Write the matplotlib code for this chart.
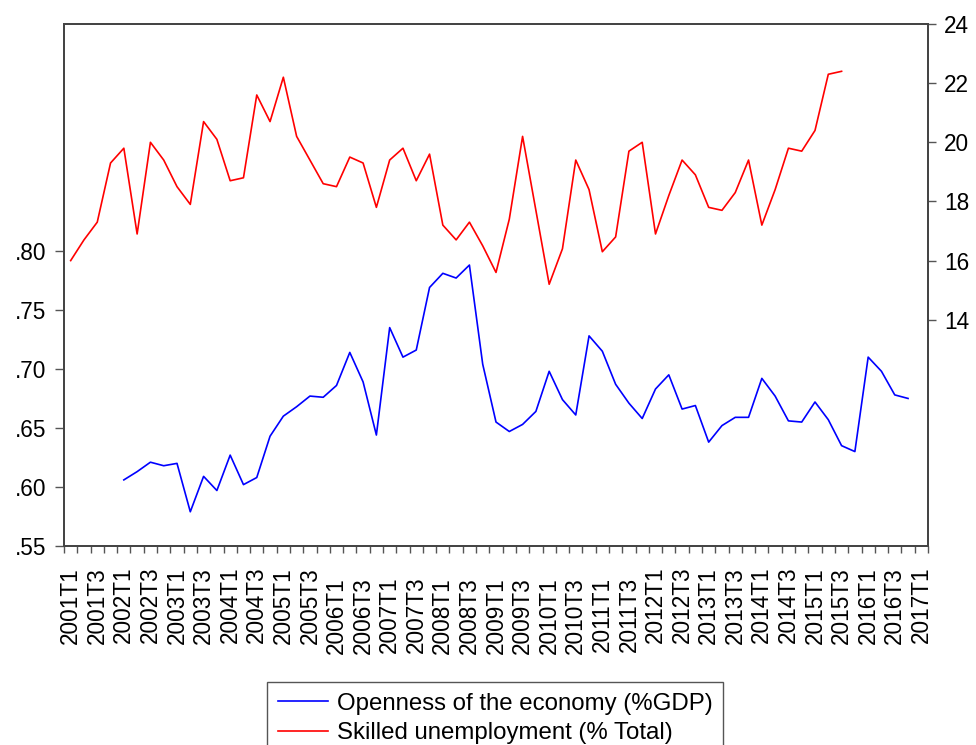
import matplotlib.pyplot as plt
from matplotlib.ticker import FuncFormatter
import numpy as np
import pandas as pd

plt.rcParams['font.family'] = ['Liberation Sans', 'DejaVu Sans']

# quarterly axis, 2001T1 .. 2017T1
quarters = pd.period_range('2001Q1', '2017Q1', freq='Q')
quarter_labels = [f'{p.year}T{p.quarter}' for p in quarters]

# Openness of the economy (%GDP), 2002T1 .. 2016T4 (left axis)
openness_start = '2002Q1'
openness = [0.606, 0.613, 0.621, 0.618, 0.620, 0.579, 0.609, 0.597, 0.627, 0.602,
            0.608, 0.643, 0.660, 0.668, 0.677, 0.676, 0.686, 0.714, 0.689, 0.644,
            0.735, 0.710, 0.716, 0.769, 0.781, 0.777, 0.788, 0.704, 0.655, 0.647,
            0.653, 0.664, 0.698, 0.674, 0.661, 0.728, 0.715, 0.687, 0.671, 0.658,
            0.683, 0.695, 0.666, 0.669, 0.638, 0.652, 0.659, 0.659, 0.692, 0.677,
            0.656, 0.655, 0.672, 0.657, 0.635, 0.630, 0.710, 0.698, 0.678, 0.675]

# Skilled unemployment (% Total), 2001T1 .. 2015T3 (right axis)
unemp_start = '2001Q1'
unemployment = [16.0, 16.7, 17.3, 19.3, 19.8, 16.9, 20.0, 19.4, 18.5, 17.9,
                20.7, 20.1, 18.7, 18.8, 21.6, 20.7, 22.2, 20.2, 19.4, 18.6,
                18.5, 19.5, 19.3, 17.8, 19.4, 19.8, 18.7, 19.6, 17.2, 16.7,
                17.3, 16.5, 15.6, 17.4, 20.2, 17.7, 15.2, 16.4, 19.4, 18.4,
                16.3, 16.8, 19.7, 20.0, 16.9, 18.2, 19.4, 18.9, 17.8, 17.7,
                18.3, 19.4, 17.2, 18.4, 19.8, 19.7, 20.4, 22.3, 22.4]

left_ticks = [0.55, 0.60, 0.65, 0.70, 0.75, 0.80]
right_ticks = [14, 16, 18, 20, 22, 24]

x_open = np.arange(len(openness)) + quarters.get_loc(pd.Period(openness_start, 'Q'))
x_unemp = np.arange(len(unemployment)) + quarters.get_loc(pd.Period(unemp_start, 'Q'))

fig = plt.figure(figsize=(9.76, 7.45), dpi=100)
ax = fig.add_axes([0.0656, 0.2671, 0.8852, 0.7007])
ax2 = ax.twinx()

l1, = ax.plot(x_open, openness, color='#0000ff', lw=1.2)
l2, = ax2.plot(x_unemp, unemployment, color='#ff0000', lw=1.2)

ax.set_xlim(-0.5, len(quarters) - 0.5)
ax.set_ylim(0.55, 0.9922)
ax2.set_ylim(6.35, 24.0)

ax.set_yticks(left_ticks)
ax.yaxis.set_major_formatter(FuncFormatter(lambda v, p: f'{v:.2f}'.lstrip('0')))
ax2.set_yticks(right_ticks)

# labels every second quarter, tick marks at the quarter boundaries
ax.set_xticks(np.arange(0, len(quarters), 2))
ax.set_xticklabels(quarter_labels[::2], rotation=90, va='top', ha='center')
ax.set_xticks(np.arange(-0.5, len(quarters), 1), minor=True)
ax.tick_params(axis='x', which='major', length=0, pad=15, labelsize=16.3)
ax.tick_params(axis='x', which='minor', length=5, width=1, color='#555555')
ax.tick_params(axis='y', length=6.5, width=1, pad=6.5, labelsize=16.3, color='#555555')
ax2.tick_params(axis='y', length=6, width=1, pad=5.5, labelsize=16.3, color='#555555')

for a in (ax, ax2):
    for s in a.spines.values():
        s.set_color('#444444')
        s.set_linewidth(1.3)

leg = fig.legend([l1, l2], ['Openness of the economy (%GDP)', 'Skilled unemployment (% Total)'],
                 loc='upper left', bbox_to_anchor=(267 / 976, 1 - 682 / 745), borderaxespad=0,
                 fontsize=17.3, frameon=True, fancybox=False, framealpha=1, edgecolor='#555555',
                 handlelength=2.1, handletextpad=0.35, borderpad=0.45, labelspacing=0.3)
leg.get_frame().set_linewidth(1.0)

# EViews draws the 2006-2011 labels a little lower
fig.canvas.draw()
for lbl in ax.get_xticklabels():
    if 2006 <= int(lbl.get_text()[:4]) <= 2011:
        lbl.set_y(-10 / (0.7007 * 745))

fig.savefig('out.png', dpi=100)
